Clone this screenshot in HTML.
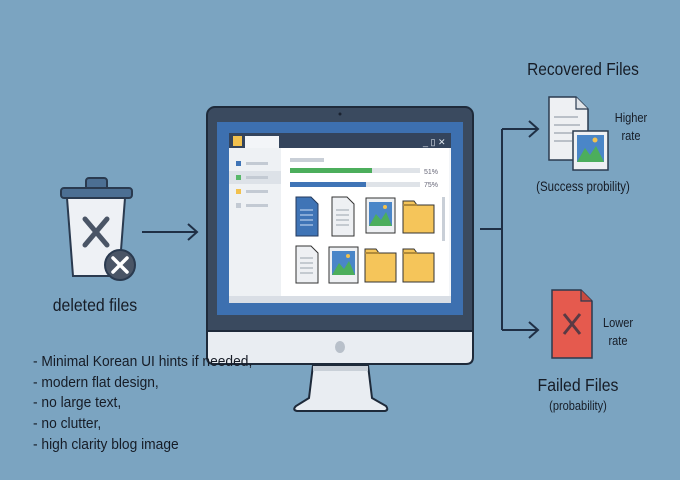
<!DOCTYPE html>
<html><head><meta charset="utf-8"><style>
body{margin:0;background:#7ba4c1;}
svg{display:block}
text{font-family:"Liberation Sans",sans-serif;fill:#161c26}
</style></head><body>
<svg width="680" height="480" viewBox="0 0 680 480">
<rect width="680" height="480" fill="#7ba4c1"/>
<!-- trash -->
<rect x="86" y="178" width="21" height="12" rx="3" fill="#4c6f93" stroke="#2a3a4f" stroke-width="2"/>
<rect x="61" y="188" width="71" height="10" rx="3" fill="#4c6f93" stroke="#2a3a4f" stroke-width="2"/>
<path d="M67 198 L125 198 L119 276 L73 276 Z" fill="#eef1f5" stroke="#2a3a4f" stroke-width="2"/>
<path d="M85 219 L107 245 M107 219 L85 245" stroke="#4a5566" stroke-width="5" stroke-linecap="round"/>
<circle cx="120" cy="265" r="15" fill="#4a5566" stroke="#2a3a4f" stroke-width="2"/>
<path d="M113 258 L127 272 M127 258 L113 272" stroke="#fff" stroke-width="3.5" stroke-linecap="round"/>
<text x="95" y="311" font-size="18" text-anchor="middle" transform="translate(95 0) scale(0.88 1) translate(-95 0)">deleted files</text>
<path d="M142 232 H197 M188 224 L197 232 L188 240" stroke="#1f2f45" stroke-width="2" fill="none"/>
<!-- monitor -->
<rect x="207" y="107" width="266" height="240" rx="8" fill="#3a4a5f" stroke="#1e2a3a" stroke-width="2"/>
<circle cx="340" cy="114" r="1.5" fill="#1a2230"/>
<path d="M207 331 H473 V357 Q473 364 466 364 H214 Q207 364 207 357 Z" fill="#e9edf2" stroke="#1e2a3a" stroke-width="2"/>
<ellipse cx="340" cy="347" rx="5" ry="6" fill="#b8c0ca"/>
<rect x="217" y="122" width="246" height="193" fill="#3d70b0"/>
<path d="M313 365 H368 L372 398 L386 406 Q389 410 385 411 H297 Q292 410 296 406 L309 398 Z" fill="#e9edf2" stroke="#1e2a3a" stroke-width="2"/>
<rect x="313" y="366" width="55" height="5" fill="#c9d0d8"/>
<!-- window -->
<rect x="229" y="133" width="222" height="170" fill="#f3f5f8"/>
<rect x="229" y="133" width="222" height="15" fill="#34445c"/>
<rect x="233" y="136" width="9" height="10" fill="#f2c14e"/>
<rect x="245" y="136" width="34" height="12" fill="#f3f5f8"/>
<text x="423" y="145" font-size="9" style="fill:#dfe6ee">_ ▯ ✕</text>
<rect x="229" y="148" width="52" height="148" fill="#eef1f4"/>
<rect x="229" y="171" width="52" height="13" fill="#dde2e8"/>
<rect x="236" y="161" width="5" height="5" fill="#3f74b6"/><rect x="246" y="162" width="22" height="3" fill="#c3cad3"/>
<rect x="236" y="175" width="5" height="5" fill="#59b86a"/><rect x="246" y="176" width="22" height="3" fill="#c3cad3"/>
<rect x="236" y="189" width="5" height="5" fill="#f2c14e"/><rect x="246" y="190" width="22" height="3" fill="#c3cad3"/>
<rect x="236" y="203" width="5" height="5" fill="#c3cad3"/><rect x="246" y="204" width="22" height="3" fill="#c3cad3"/>
<rect x="281" y="148" width="168" height="148" fill="#fff"/>
<rect x="229" y="296" width="222" height="7" fill="#d9dee5"/>
<rect x="290" y="158" width="34" height="4" fill="#c9cfd7"/>
<rect x="290" y="168" width="130" height="5" fill="#dfe3e8"/><rect x="290" y="168" width="82" height="5" fill="#4cae5c"/>
<rect x="290" y="182" width="130" height="5" fill="#dfe3e8"/><rect x="290" y="182" width="76" height="5" fill="#3f74b6"/>
<text x="424" y="174" font-size="7" style="fill:#667">51%</text>
<text x="424" y="187" font-size="7" style="fill:#667">75%</text>
<rect x="442" y="197" width="3" height="44" fill="#c9cfd7"/>
<!-- row1 -->
<path d="M296 197 H311 L318 204 V236 H296 Z" fill="#3f74b6" stroke="#243a5c" stroke-width="1"/>
<path d="M300 210 H313 M300 215 H313 M300 220 H313 M300 225 H313" stroke="#cfe0f5" stroke-width="1"/>
<path d="M332 197 H347 L354 204 V236 H332 Z" fill="#eef0f3" stroke="#333" stroke-width="1"/>
<path d="M336 210 H349 M336 215 H349 M336 220 H349 M336 225 H349" stroke="#9aa3ae" stroke-width="1"/>
<rect x="366" y="198" width="29" height="35" fill="#eef0f3" stroke="#333"/>
<rect x="369" y="202" width="23" height="24" fill="#4a86c8"/>
<path d="M369 226 L376 214 L381 220 L386 212 L392 226 Z" fill="#4cae5c"/><circle cx="385" cy="207" r="2" fill="#f2c14e"/>
<path d="M403 201 H414 L417 205 H434 V233 H403 Z" fill="#f5c55a" stroke="#333"/>
<path d="M403 205 H417" stroke="#b08a3a" stroke-width="2"/>
<!-- row2 -->
<path d="M296 246 H311 L318 253 V283 H296 Z" fill="#eef0f3" stroke="#333"/>
<path d="M300 258 H313 M300 263 H313 M300 268 H313 M300 273 H313" stroke="#9aa3ae"/>
<rect x="329" y="247" width="29" height="36" fill="#eef0f3" stroke="#333"/>
<rect x="332" y="251" width="23" height="24" fill="#4a86c8"/>
<path d="M332 275 L339 263 L344 269 L349 261 L355 275 Z" fill="#4cae5c"/><circle cx="348" cy="256" r="2" fill="#f2c14e"/>
<path d="M365 249 H376 L379 253 H396 V282 H365 Z" fill="#f5c55a" stroke="#333"/>
<path d="M365 253 H379" stroke="#b08a3a" stroke-width="2"/>
<path d="M403 249 H414 L417 253 H434 V282 H403 Z" fill="#f5c55a" stroke="#333"/>
<path d="M403 253 H417" stroke="#b08a3a" stroke-width="2"/>
<!-- branch -->
<path d="M480 229 H502 M502 129 V330 M502 129 H537 M502 330 H537 M529 121 L538 129 L529 137 M529 322 L538 330 L529 338" stroke="#1f2f45" stroke-width="2" fill="none"/>
<text x="583" y="75" font-size="18" text-anchor="middle" transform="translate(583 0) scale(0.86 1) translate(-583 0)">Recovered Files</text>
<path d="M549 97 H576 L588 109 V160 H549 Z" fill="#eef0f3" stroke="#2a3a4f" stroke-width="1.5"/>
<path d="M576 97 V109 H588" fill="#dfe3e8" stroke="#2a3a4f" stroke-width="1.2"/>
<path d="M554 117 H578 M554 125 H580 M554 133 H575 M554 141 H572" stroke="#a8b0ba" stroke-width="1.5"/>
<rect x="573" y="131" width="35" height="39" fill="#eef0f3" stroke="#2a3a4f" stroke-width="1.5"/>
<rect x="577" y="135" width="27" height="27" fill="#4a86c8"/>
<path d="M577 162 L585 148 L590 155 L596 146 L604 162 Z" fill="#4cae5c"/><circle cx="595" cy="140" r="2.5" fill="#f2c14e"/>
<text x="631" y="122" font-size="13" text-anchor="middle" transform="translate(631 0) scale(0.85 1) translate(-631 0)">Higher</text>
<text x="631" y="140" font-size="13" text-anchor="middle" transform="translate(631 0) scale(0.85 1) translate(-631 0)">rate</text>
<text x="583" y="191" font-size="14" text-anchor="middle" transform="translate(583 0) scale(0.82 1) translate(-583 0)">(Success probility)</text>
<path d="M552 290 H581 L592 301 V358 H552 Z" fill="#e55a4e" stroke="#2a3a4f" stroke-width="1.5"/>
<path d="M581 290 V301 H592" fill="#c84a40" stroke="#2a3a4f" stroke-width="1.2"/>
<path d="M564 314 L580 334 M580 314 L564 334" stroke="#5a3a44" stroke-width="3"/>
<text x="618" y="327" font-size="13" text-anchor="middle" transform="translate(618 0) scale(0.85 1) translate(-618 0)">Lower</text>
<text x="618" y="345" font-size="13" text-anchor="middle" transform="translate(618 0) scale(0.85 1) translate(-618 0)">rate</text>
<text x="578" y="391" font-size="18" text-anchor="middle" transform="translate(578 0) scale(0.88 1) translate(-578 0)">Failed Files</text>
<text x="578" y="410" font-size="13" text-anchor="middle" transform="translate(578 0) scale(0.85 1) translate(-578 0)">(probability)</text>
<!-- bullets -->
<g transform="translate(33 0) scale(0.92 1)" font-size="15">
<text x="0" y="366">- Minimal Korean UI hints if needed,</text>
<text x="0" y="387">- modern flat design,</text>
<text x="0" y="407">- no large text,</text>
<text x="0" y="428">- no clutter,</text>
<text x="0" y="449">- high clarity blog image</text>
</g>
</svg>
</body></html>
